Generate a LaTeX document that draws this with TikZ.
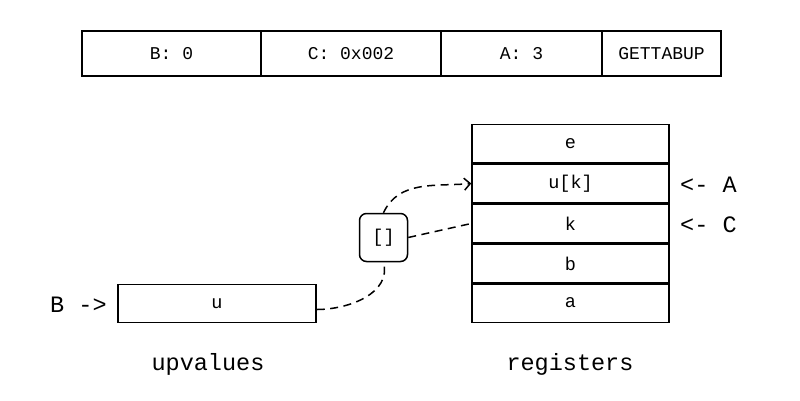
\documentclass[tikz,border=0pt]{standalone}
\usepackage{fontspec}
\setmonofont{Liberation Mono}
\usetikzlibrary{arrows.meta}
\begin{document}
\begin{tikzpicture}[x=1pt,y=-1pt,
  cell/.style={draw,line width=1.5pt,minimum height=45pt,inner sep=0pt,font=\ttfamily\fontsize{18}{20}\selectfont},
  reg/.style={draw,line width=1.5pt,minimum width=197pt,minimum height=38.5pt,inner sep=0pt,font=\ttfamily\fontsize{18.5}{20}\selectfont},
  lbl/.style={font=\ttfamily\fontsize{23.5}{26}\selectfont,inner sep=0pt},
  conn/.style={line width=1.5pt,dash pattern=on 8pt off 5.5pt},
  tip/.style={-{Straight Barb[length=6pt,width=12pt,line width=1.5pt]}}]
\useasboundingbox (0,0) rectangle (800,400);
% instruction bar
\node[cell,minimum width=179pt] (fb) at (171.5,53.5) {B: 0};
\node[cell,minimum width=180pt] (fc) at (351,53.5) {C: 0x002};
\node[cell,minimum width=161pt] (fa) at (521.5,53.5) {A: 3};
\node[cell,minimum width=119pt] (fop) at (661.5,53.5) {GETTABUP};
% registers
\node[reg] (re) at (570.5,143.5) {e};
\node[reg] (ruk) at (570.5,183.5) {u[k]};
\node[reg] (rk) at (570.5,223.5) {k};
\node[reg] (rb) at (570.5,263.5) {b};
\node[reg] (ra) at (570.5,303) {a};
% upvalues
\node[reg,minimum width=198pt,minimum height=38pt] (uu) at (217,303.5) {u};
% index node
\node[draw,line width=1.5pt,rounded corners=7pt,minimum width=48pt,minimum height=48pt,inner sep=0pt,font=\ttfamily\fontsize{18.5}{20}\selectfont] (idx) at (383.5,237.5) {[]};
% labels
\node[lbl,anchor=west] (lb) at (50,305) {B ->};
\node[lbl,anchor=west] (la) at (680,185) {<- A};
\node[lbl,anchor=west] (lc) at (680,225) {<- C};
\node[lbl] (lup) at (208,364) {upvalues};
\node[lbl] (lreg) at (570,364) {registers};
% connectors
\coordinate (ustart) at ([yshift=-6pt]uu.east);
\draw[conn] (ustart) to[out=0,in=-75] (idx.south);
\draw[conn,tip] (idx.north) to[out=65,in=185] (ruk.west);
\draw[conn] (idx.east) -- (rk.west);
\end{tikzpicture}
\end{document}
